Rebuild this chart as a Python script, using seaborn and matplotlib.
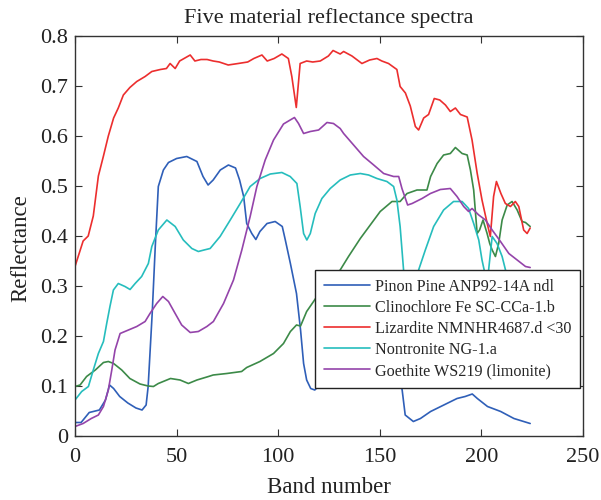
import numpy as np
import pandas as pd
import matplotlib
matplotlib.use("Agg")
import matplotlib.pyplot as plt
import seaborn as sns

# ---- data ----
names = ["Pinon Pine ANP92-14A ndl", "Clinochlore Fe SC-CCa-1.b",
         "Lizardite NMNHR4687.d <30", "Nontronite NG-1.a",
         "Goethite WS219 (limonite)"]

pine_x = [0, 3, 7, 12, 15, 17, 19, 22, 26, 30, 33, 35, 36, 38, 39.5, 41, 43.5, 46, 50, 55,
          60, 63, 65.5, 68, 71.5, 75.5, 79, 81, 83, 84.5, 87, 89, 91, 94.5, 98.5, 102, 103.5,
          106, 109, 111, 112.5, 114, 116, 118, 120, 125, 135, 145, 152, 157, 159.5, 161, 162.5,
          166.5, 170, 175, 181.5, 188, 192, 195.5, 198, 203, 209.5, 216, 224]
pine_y = [0.027, 0.027, 0.047, 0.052, 0.072, 0.102, 0.095, 0.079, 0.066, 0.056, 0.052, 0.062,
          0.099, 0.246, 0.379, 0.499, 0.532, 0.547, 0.555, 0.559, 0.549, 0.519, 0.502, 0.512,
          0.532, 0.542, 0.536, 0.512, 0.479, 0.425, 0.405, 0.393, 0.409, 0.425, 0.429, 0.419,
          0.392, 0.345, 0.285, 0.212, 0.145, 0.112, 0.095, 0.092, 0.1, 0.18, 0.24, 0.26, 0.25,
          0.2, 0.12, 0.092, 0.042, 0.029, 0.035, 0.049, 0.062, 0.075, 0.079, 0.084, 0.075,
          0.059, 0.049, 0.035, 0.025]

clin_x = [0, 2.5, 5.7, 10, 14, 16.4, 19, 23, 27, 32, 36, 38.6, 41, 47, 51.7, 55.8, 60, 65.7,
          68, 74.7, 82, 84.5, 91, 97.7, 102.6, 106, 109, 111, 114, 117.4, 120.7, 125, 130.5,
          134.6, 140.4, 145.3, 150.2, 156, 160, 163.4, 168.3, 173.2, 175, 178.2, 181.4, 184.7,
          187.2, 190.5, 193, 194.6, 196.2, 197.9, 199.1, 200.8, 202.8, 204.1, 205.3, 206.9,
          208.5, 210.2, 212.7, 215.1, 217.6, 220, 221.7, 224]
clin_y = [0.099, 0.102, 0.119, 0.132, 0.147, 0.149, 0.145, 0.132, 0.115, 0.104, 0.1, 0.099,
          0.105, 0.115, 0.112, 0.105, 0.112, 0.119, 0.122, 0.125, 0.129, 0.137, 0.149, 0.165,
          0.185, 0.209, 0.222, 0.22, 0.249, 0.269, 0.289, 0.31, 0.332, 0.359, 0.395, 0.422,
          0.449, 0.469, 0.469, 0.485, 0.492, 0.492, 0.519, 0.545, 0.562, 0.565, 0.577, 0.565,
          0.562, 0.532, 0.492, 0.405, 0.412, 0.432, 0.405, 0.385, 0.372, 0.359, 0.385, 0.432,
          0.462, 0.469, 0.452, 0.429, 0.427, 0.419]

liz_x = [0, 4, 6.5, 9, 11.5, 14, 16.4, 19, 21.3, 23.8, 27, 30.4, 34.5, 37.8, 42, 45, 46.8,
         49.3, 51.5, 56.7, 59, 62, 65, 68, 71, 75.4, 80.3, 85, 88, 92, 94.6, 98, 101.8, 105,
         106.7, 108.9, 110.8, 114, 117, 120.7, 124.7, 127, 130.5, 132.2, 136.3, 141.2, 145,
         148.6, 151, 154.3, 158.4, 160, 162.6, 165, 167.5, 169.1, 171.6, 174, 176.8, 179.5,
         182.3, 184.7, 187.2, 189.7, 193, 195.4, 197.9, 200.3, 202.8, 204.4, 206, 207.4,
         209.6, 211.8, 214.3, 216.7, 218.4, 220.8, 222.5, 224]
liz_y = [0.339, 0.39, 0.40, 0.44, 0.52, 0.56, 0.60, 0.636, 0.656, 0.682, 0.697, 0.709, 0.719,
         0.729, 0.733, 0.735, 0.745, 0.735, 0.75, 0.762, 0.75, 0.753, 0.753, 0.75, 0.748,
         0.742, 0.745, 0.748, 0.755, 0.762, 0.75, 0.755, 0.764, 0.755, 0.719, 0.657, 0.745,
         0.75, 0.748, 0.75, 0.76, 0.771, 0.764, 0.769, 0.76, 0.745, 0.752, 0.755, 0.75, 0.745,
         0.733, 0.699, 0.686, 0.66, 0.619, 0.612, 0.636, 0.643, 0.675, 0.672, 0.662, 0.649,
         0.656, 0.643, 0.638, 0.592, 0.526, 0.472, 0.426, 0.399, 0.479, 0.509, 0.485, 0.465,
         0.459, 0.469, 0.459, 0.412, 0.405, 0.416]

non_x = [0, 3.3, 6.6, 9, 11.5, 14, 15.6, 17.2, 18.9, 21.3, 24.6, 27.1, 29.6, 32.8, 36.1, 37.8,
         41, 45.2, 49.3, 53.3, 57.5, 60.7, 63.5, 66.5, 71.4, 76.4, 81.3, 86.2, 91.1, 96.1,
         101.8, 105.9, 109.2, 110.8, 112.5, 114.1, 115.8, 118.2, 121.5, 125.6, 130.5, 135.5,
         140.4, 144.5, 148.6, 153.5, 156.8, 158.4, 160, 161.7, 164, 166.5, 169.1, 172.4, 176.5,
         181.4, 186.3, 190.5, 193.7, 196.2, 198.7, 200.3, 202, 203.5, 205.3, 207.7, 210.2,
         212.3, 216, 220, 224]
non_y = [0.072, 0.089, 0.099, 0.132, 0.165, 0.189, 0.225, 0.259, 0.292, 0.305, 0.299, 0.293,
         0.305, 0.319, 0.345, 0.379, 0.412, 0.432, 0.419, 0.392, 0.375, 0.369, 0.372, 0.375,
         0.399, 0.432, 0.465, 0.499, 0.515, 0.524, 0.527, 0.519, 0.505, 0.459, 0.405, 0.392,
         0.405, 0.445, 0.475, 0.495, 0.512, 0.522, 0.525, 0.522, 0.515, 0.509, 0.499, 0.472,
         0.419, 0.332, 0.2, 0.22, 0.332, 0.372, 0.419, 0.452, 0.469, 0.469, 0.455, 0.425,
         0.392, 0.352, 0.32, 0.33, 0.399, 0.385, 0.359, 0.325, 0.3, 0.28, 0.27]

goe_x = [0, 4, 8, 11.5, 14, 16.4, 18.1, 19.7, 22.2, 26.3, 30.4, 34.5, 36.9, 40.2, 43.2, 46,
         49.3, 52.5, 56.7, 60.7, 64.9, 68.1, 73.1, 78, 82.1, 86.2, 89.5, 93.6, 97.7, 102.6,
         105.9, 108, 110, 112.5, 115.8, 119.9, 124, 127.2, 130.5, 132.2, 137.1, 142, 147,
         151.9, 156.8, 159.3, 160.9, 163.7, 165.9, 170.8, 174.9, 179.8, 184.7, 188, 191.3,
         193.7, 195.4, 198.7, 202, 205.3, 209.4, 213.5, 217.6, 221.7, 224]
goe_y = [0.019, 0.025, 0.035, 0.042, 0.059, 0.092, 0.132, 0.172, 0.205, 0.212, 0.219, 0.229,
         0.245, 0.265, 0.279, 0.269, 0.245, 0.222, 0.207, 0.209, 0.219, 0.229, 0.265, 0.312,
         0.372, 0.439, 0.499, 0.552, 0.592, 0.624, 0.632, 0.637, 0.625, 0.605, 0.609, 0.612,
         0.627, 0.625, 0.615, 0.605, 0.582, 0.559, 0.542, 0.525, 0.519, 0.519, 0.495, 0.462,
         0.465, 0.475, 0.485, 0.493, 0.495, 0.479, 0.459, 0.449, 0.455, 0.442, 0.432, 0.412,
         0.389, 0.365, 0.352, 0.339, 0.337]

series_x = [pine_x, clin_x, liz_x, non_x, goe_x]
series_y = [pine_y, clin_y, liz_y, non_y, goe_y]
colors = ["#2f5fb8", "#3c8a48", "#ec2e2e", "#26bdbd", "#9444aa"]

frames = []
for n, xs, ys in zip(names, series_x, series_y):
    frames.append(pd.DataFrame({"band": xs, "refl": ys, "material": n}))
df = pd.concat(frames, ignore_index=True)

sns.set_theme(style="ticks")
plt.rcParams["font.family"] = ["Liberation Serif", "DejaVu Serif"]

fig = plt.figure(figsize=(6.01, 5.0), dpi=100)
ax = fig.add_axes([75 / 601, 64 / 500, 508 / 601, 400 / 500])

sns.lineplot(data=df, x="band", y="refl", hue="material", hue_order=names,
             palette=colors, sort=False, estimator=None, units="material",
             linewidth=1.2, ax=ax)

ax.set_xlim(0, 250)
ax.set_ylim(0, 0.8)
ax.set_xticks([0, 50, 100, 150, 200, 250])
ax.set_yticks([0, 0.1, 0.2, 0.3, 0.4, 0.5, 0.6, 0.7, 0.8])
ax.set_yticklabels(["0", "0.1", "0.2", "0.3", "0.4", "0.5", "0.6", "0.7", "0.8"])
ax.tick_params(axis="both", which="both", direction="in", top=True, right=True,
               labelsize=16, length=5, width=0.8, colors="#333333", labelcolor="#222222")
ax.tick_params(axis="x", pad=9)
ax.tick_params(axis="y", pad=5)
for s in ax.spines.values():
    s.set_color("#333333")
    s.set_linewidth(1.0)

ax.set_xlabel("Band number", fontsize=16.5, color="#222222", labelpad=7)
ax.set_ylabel("Reflectance", fontsize=16.5, color="#222222")
ax.yaxis.set_label_coords(-0.086, 0.47)
ax.set_title("Five material reflectance spectra", fontsize=16, color="#222222", pad=9)

leg = ax.legend(loc="lower right", bbox_to_anchor=(0.995, 0.12), borderaxespad=0,
                fontsize=11.6, frameon=True, fancybox=False, handlelength=2.85,
                handletextpad=0.35, labelspacing=0.32, borderpad=0.55)
leg.get_frame().set_edgecolor("#222222")
leg.get_frame().set_linewidth(1.0)
leg.get_frame().set_alpha(1)
for line in leg.get_lines():
    line.set_linewidth(1.2)

fig.savefig("out.png", dpi=100)
